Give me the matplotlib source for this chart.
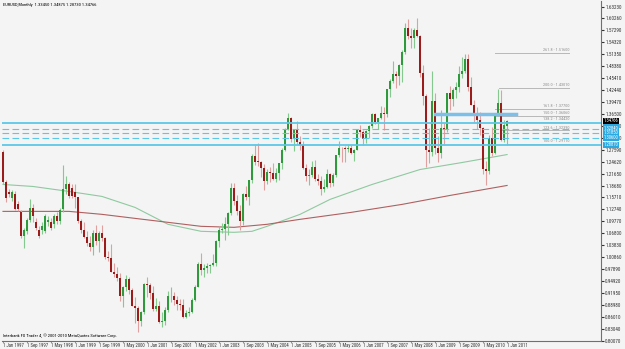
import numpy as np
import pandas as pd
import matplotlib.pyplot as plt
from matplotlib import font_manager
from matplotlib.font_manager import FontProperties

# MT4 uses a small narrow font - pick the narrowest family that is installed
font = 'DejaVu Sans'
for name in ['Liberation Sans Narrow', 'DejaVu Sans Condensed', 'Roboto Condensed', 'Liberation Sans']:
    try:
        font_manager.findfont(FontProperties(family=name), fallback_to_default=False)
        font = name
        break
    except ValueError:
        pass
fs = 1.15 if font in ('Liberation Sans Narrow', 'Roboto Condensed', 'DejaVu Sans Condensed') else 1.0
plt.rcParams['font.family'] = [font, 'DejaVu Sans']

# EURUSD monthly candles, Jan 1997 .. Jan 2011
start = '1997-01-01'
opens = [1.2700, 1.1950, 1.1700, 1.1560, 1.1650, 1.1420, 1.1200, 1.0610, 1.0740, 1.1000, 1.1300, 1.0950,
         1.0750, 1.0750, 1.0740, 1.0950, 1.0950, 1.0900, 1.1100, 1.0980, 1.1274, 1.1770, 1.1894, 1.1810,
         1.1700, 1.1575, 1.0980, 1.0770, 1.0575, 1.0430, 1.0345, 1.0675, 1.0495, 1.0680, 1.0550, 1.0090,
         1.0075, 0.9710, 0.9660, 0.9560, 0.9120, 0.9330, 0.9530, 0.9260, 0.8880, 0.8830, 0.8490, 0.8720,
         0.9420, 0.9380, 0.9200, 0.8805, 0.8880, 0.8460, 0.8500, 0.8760, 0.9110, 0.9120, 0.9030, 0.8915,
         0.8900, 0.8600, 0.8700, 0.8720, 0.9015, 0.9340, 0.9920, 0.9775, 0.9805, 0.9865, 0.9890, 0.9935,
         1.0490, 1.0750, 1.0780, 1.0905, 1.1180, 1.1810, 1.1480, 1.1240, 1.0980, 1.1650, 1.1590, 1.1995,
         1.2590, 1.2460, 1.2450, 1.2300, 1.1980, 1.2200, 1.2170, 1.2020, 1.2175, 1.2420, 1.2760, 1.3285,
         1.3555, 1.3035, 1.3250, 1.2960, 1.2870, 1.2300, 1.2100, 1.2125, 1.2340, 1.2025, 1.1990, 1.1790,
         1.1840, 1.2150, 1.1920, 1.2120, 1.2620, 1.2810, 1.2790, 1.2770, 1.2810, 1.2680, 1.2760, 1.3250,
         1.3200, 1.3025, 1.3230, 1.3350, 1.3660, 1.3450, 1.3540, 1.3680, 1.3660, 1.4260, 1.4480, 1.4640,
         1.4590, 1.4860, 1.5190, 1.5780, 1.5580, 1.5550, 1.5750, 1.5600, 1.4670, 1.4090, 1.2740, 1.2690,
         1.3960, 1.2800, 1.2670, 1.3290, 1.3240, 1.4160, 1.4030, 1.4240, 1.4325, 1.4640, 1.4720, 1.5010,
         1.4330, 1.3870, 1.3630, 1.3510, 1.3295, 1.2270, 1.2230, 1.3050, 1.2680, 1.3630, 1.3930, 1.3000,
         1.3345]
highs = [1.2750, 1.2000, 1.1780, 1.1750, 1.1720, 1.1480, 1.1250, 1.0800, 1.1050, 1.1520, 1.1400, 1.1050,
         1.0850, 1.0950, 1.1150, 1.1100, 1.1050, 1.1150, 1.1200, 1.1300, 1.2390, 1.2100, 1.1950, 1.1900,
         1.1906, 1.1590, 1.1030, 1.0950, 1.0730, 1.0600, 1.0765, 1.0880, 1.0745, 1.0895, 1.0575, 1.0245,
         1.0414, 0.9940, 0.9840, 0.9690, 0.9370, 0.9650, 0.9590, 0.9310, 0.9100, 0.8880, 0.8740, 0.9440,
         0.9595, 0.9440, 0.9360, 0.9080, 0.9000, 0.8710, 0.8840, 0.9240, 0.9330, 0.9225, 0.9110, 0.9055,
         0.9045, 0.8760, 0.8850, 0.9060, 0.9390, 0.9960, 1.0195, 0.9910, 0.9940, 0.9905, 1.0160, 1.0500,
         1.0860, 1.0935, 1.1080, 1.1220, 1.1930, 1.1935, 1.1640, 1.1385, 1.1675, 1.1850, 1.2015, 1.2640,
         1.2900, 1.2930, 1.2480, 1.2410, 1.2275, 1.2325, 1.2430, 1.2300, 1.2440, 1.2810, 1.3310, 1.3667,
         1.3580, 1.3285, 1.3480, 1.3090, 1.2980, 1.2400, 1.2290, 1.2480, 1.2500, 1.2155, 1.2105, 1.2040,
         1.2285, 1.2190, 1.2190, 1.2625, 1.2980, 1.2830, 1.2860, 1.2905, 1.2875, 1.2770, 1.3280, 1.3365,
         1.3255, 1.3250, 1.3385, 1.3680, 1.3680, 1.3540, 1.3850, 1.3810, 1.4280, 1.4525, 1.4970, 1.4725,
         1.4885, 1.5245, 1.5905, 1.6020, 1.5790, 1.5800, 1.6038, 1.5620, 1.4865, 1.4155, 1.3300, 1.4720,
         1.4160, 1.3095, 1.3740, 1.3430, 1.4165, 1.4340, 1.4305, 1.4445, 1.4845, 1.5060, 1.5145, 1.5140,
         1.4580, 1.3990, 1.3815, 1.3690, 1.3330, 1.2470, 1.3120, 1.3335, 1.3650, 1.4282, 1.4245, 1.3500,
         1.3488]
lows = [1.1900, 1.1450, 1.1580, 1.1480, 1.1250, 1.1230, 1.0550, 1.0320, 1.0650, 1.0950, 1.0950, 1.0750,
        1.0550, 1.0650, 1.0680, 1.0850, 1.0750, 1.0800, 1.0900, 1.0900, 1.1200, 1.1650, 1.1550, 1.1550,
        1.1300, 1.0930, 1.0680, 1.0550, 1.0360, 1.0230, 1.0130, 1.0390, 1.0205, 1.0485, 1.0040, 0.9995,
        0.9705, 0.9600, 0.9490, 0.9000, 0.8840, 0.9240, 0.9170, 0.8880, 0.8440, 0.8228, 0.8370, 0.8680,
        0.9105, 0.9040, 0.8740, 0.8740, 0.8440, 0.8350, 0.8400, 0.8730, 0.8970, 0.8905, 0.8760, 0.8780,
        0.8580, 0.8565, 0.8610, 0.8700, 0.8995, 0.9340, 0.9630, 0.9600, 0.9685, 0.9690, 0.9860, 0.9875,
        1.0335, 1.0690, 1.0500, 1.0630, 1.1125, 1.1395, 1.1140, 1.0760, 1.0880, 1.1510, 1.1380, 1.1930,
        1.2380, 1.2355, 1.2080, 1.1760, 1.1900, 1.1965, 1.2010, 1.1950, 1.2005, 1.2285, 1.2715, 1.3255,
        1.2955, 1.2730, 1.2870, 1.2750, 1.2290, 1.1970, 1.1870, 1.2090, 1.1975, 1.1875, 1.1640, 1.1705,
        1.1800, 1.1825, 1.1860, 1.2070, 1.2580, 1.2460, 1.2455, 1.2690, 1.2650, 1.2480, 1.2745, 1.3085,
        1.2865, 1.2935, 1.3050, 1.3310, 1.3390, 1.3265, 1.3520, 1.3260, 1.3580, 1.4075, 1.4420, 1.4300,
        1.4365, 1.4440, 1.5145, 1.5510, 1.5285, 1.5300, 1.5560, 1.4580, 1.3880, 1.2330, 1.2420, 1.2610,
        1.2660, 1.2455, 1.2550, 1.2885, 1.3205, 1.3750, 1.3850, 1.4045, 1.4200, 1.4535, 1.4665, 1.4220,
        1.3860, 1.3440, 1.3270, 1.3115, 1.2150, 1.1876, 1.2150, 1.2590, 1.2650, 1.3600, 1.2970, 1.2960,
        1.2873]
closes = [1.1950, 1.1550, 1.1650, 1.1700, 1.1280, 1.1290, 1.0610, 1.0750, 1.1000, 1.1300, 1.1100, 1.0800,
          1.0610, 1.0860, 1.1100, 1.1020, 1.0800, 1.1100, 1.0980, 1.1250, 1.1770, 1.1894, 1.1604, 1.1604,
          1.1575, 1.0980, 1.0770, 1.0575, 1.0430, 1.0345, 1.0675, 1.0495, 1.0680, 1.0550, 1.0090, 1.0075,
          0.9710, 0.9660, 0.9560, 0.9120, 0.9330, 0.9530, 0.9260, 0.8880, 0.8830, 0.8490, 0.8720, 0.9420,
          0.9380, 0.9200, 0.8805, 0.8880, 0.8460, 0.8500, 0.8760, 0.9110, 0.9120, 0.9030, 0.8915, 0.8900,
          0.8600, 0.8700, 0.8720, 0.9015, 0.9340, 0.9920, 0.9775, 0.9805, 0.9865, 0.9890, 0.9935, 1.0490,
          1.0750, 1.0780, 1.0905, 1.1180, 1.1810, 1.1480, 1.1240, 1.0980, 1.1650, 1.1590, 1.1995, 1.2590,
          1.2460, 1.2450, 1.2300, 1.1980, 1.2200, 1.2170, 1.2020, 1.2175, 1.2420, 1.2760, 1.3285, 1.3555,
          1.3035, 1.3250, 1.2960, 1.2870, 1.2300, 1.2100, 1.2125, 1.2340, 1.2025, 1.1990, 1.1790, 1.1840,
          1.2150, 1.1920, 1.2120, 1.2620, 1.2810, 1.2790, 1.2770, 1.2810, 1.2680, 1.2760, 1.3250, 1.3200,
          1.3025, 1.3230, 1.3350, 1.3660, 1.3450, 1.3540, 1.3680, 1.3660, 1.4260, 1.4480, 1.4640, 1.4590,
          1.4860, 1.5190, 1.5780, 1.5580, 1.5550, 1.5750, 1.5600, 1.4670, 1.4090, 1.2740, 1.2690, 1.3960,
          1.2800, 1.2670, 1.3290, 1.3240, 1.4160, 1.4030, 1.4240, 1.4325, 1.4640, 1.4720, 1.5010, 1.4330,
          1.3870, 1.3630, 1.3510, 1.3295, 1.2270, 1.2230, 1.3050, 1.2680, 1.3630, 1.3930, 1.3000, 1.3380,
          1.3477]

# moving averages, sampled along the chart (bar index, price)
ma_green_bar = [0, 10, 22, 33, 44, 55, 66, 77, 83, 88, 99, 109, 123, 139, 153, 168]
ma_green_val = [1.1894, 1.1844, 1.1720, 1.1596, 1.1323, 1.0902, 1.0728, 1.0703, 1.0728, 1.0852,
                1.1150, 1.1522, 1.1894, 1.2266, 1.2440, 1.2638]
ma_red_bar = [0, 22, 33, 44, 55, 66, 77, 88, 99, 116, 133, 149, 168]
ma_red_val = [1.1224, 1.1224, 1.1150, 1.1050, 1.0951, 1.0852, 1.0827, 1.0902, 1.1026, 1.1199,
              1.1398, 1.1621, 1.1869]

# fibonacci expansion levels
fib_names = ['261.8', '200.0', '161.8', '150.0', '138.2', '123.6', '100.0']
fib_prices = [1.51600, 1.43010, 1.37700, 1.36060, 1.34420, 1.32390, 1.29110]
fib_start = [164, 165.3, 164, 164, 166, 166, 168]
fib_end = 188.7

# support / resistance zone (horizontal lines)
zone_solid = [1.3433, 1.2887]
zone_dashed = [1.3284, 1.3185, 1.3060]
short_line_price = 1.3656
short_line_bars = (144, 171)

last_price = 1.34766
yticks = [0.8007, 0.8304, 0.8601, 0.8898, 0.9195, 0.9492, 0.9789, 1.0086, 1.0383, 1.0680,
          1.0977, 1.1274, 1.1571, 1.1868, 1.2165, 1.2462, 1.2759, 1.3056, 1.3353, 1.3650,
          1.3947, 1.4244, 1.4541, 1.4838, 1.5135, 1.5432, 1.5729, 1.6026, 1.6323]

dates = pd.date_range(start, periods=len(closes), freq='MS')
o = np.array(opens); h = np.array(highs); l = np.array(lows); c = np.array(closes)
x = np.arange(len(c))

bg = '#f4f4f4'
fig = plt.figure(figsize=(6.25, 3.49), dpi=100, facecolor=bg)
ax = fig.add_axes([2 / 625, 8 / 349, 599 / 625, 340 / 349], facecolor=bg)

up = c >= o
bull, bear = '#2f9a3c', '#9c1c1c'
ax.vlines(x[up], l[up], h[up], color='#86c98f', lw=0.8, zorder=2)
ax.vlines(x[~up], l[~up], h[~up], color='#e0a0a0', lw=0.8, zorder=2)
body_lo = np.minimum(o, c)
body_h = np.maximum(np.abs(c - o), 0.002)
ax.bar(x[up], body_h[up], bottom=body_lo[up], width=0.67, color=bull, lw=0, zorder=3)
ax.bar(x[~up], body_h[~up], bottom=body_lo[~up], width=0.67, color=bear, lw=0, zorder=3)

ax.plot(ma_green_bar, ma_green_val, color='#8fc9a0', lw=0.8, zorder=1)
ax.plot(ma_red_bar, ma_red_val, color='#b06060', lw=0.8, zorder=1)

# zone lines
zc = '#5cc8e8'
for p in zone_solid:
    ax.axhline(p, color=zc, lw=1.3, zorder=4)
for p in zone_dashed:
    ax.axhline(p, color=zc, lw=0.8, ls=(0, (6, 3)), zorder=4)
ax.plot(short_line_bars, [short_line_price] * 2, color='#7cbfe8', lw=2.5, zorder=4)

# fib levels
for name, p, s in zip(fib_names, fib_prices, fib_start):
    ax.plot([s, fib_end], [p, p], color='#b8b8b8', lw=0.7, zorder=1)
    ax.text(fib_end, p + 0.002, f'{name} - {p:.5f}', ha='right', va='bottom',
            fontsize=2.7 * fs, color='#909090')

ax.set_xlim(-0.33, 199.3)
ax.set_ylim(0.7998, 1.6460)

# x labels every 8 months
xt = x[::8]
ax.set_xticks(xt)
ax.set_xticklabels([f'{d.day} {d.strftime("%b %Y")}' for d in dates[::8]],
                   fontsize=3.0 * fs, ha='left')
ax.tick_params(axis='x', length=1, pad=0.4, colors='#333333')

ax.yaxis.tick_right()
ax.set_yticks(yticks)
ax.set_yticklabels([f'{v:.5f}' for v in yticks], fontsize=3.2 * fs)
ax.tick_params(axis='y', length=2, pad=1, colors='#333333')

for side in ['top', 'left']:
    ax.spines[side].set_visible(False)
for side in ['right', 'bottom']:
    ax.spines[side].set_color('#707070')
    ax.spines[side].set_linewidth(0.8)

# price boxes on the right axis
tf = ax.get_yaxis_transform()
for p in zone_solid + zone_dashed:
    ax.text(1.004, p, f'{p:.5f}', transform=tf, fontsize=2.9 * fs, color='white', va='center',
            ha='left', bbox=dict(boxstyle='square,pad=0.1', fc='#2aa8e0', ec='none'), clip_on=False)
ax.text(1.004, last_price, f'{last_price:.5f}', transform=tf, fontsize=2.9 * fs, color='white',
        va='center', ha='left', bbox=dict(boxstyle='square,pad=0.1', fc='black', ec='none'),
        clip_on=False)

ax.text(0.002, 0.995, 'EURUSD,Monthly  1.33450 1.34875 1.28730 1.34766', transform=ax.transAxes,
        fontsize=2.8 * fs, va='top', ha='left', color='black')
ax.text(0.002, 0.008, 'Interbank FX Trader 4, \u00a9 2001-2010 MetaQuotes Software Corp.',
        transform=ax.transAxes, fontsize=2.8 * fs, va='bottom', ha='left', color='black')

fig.savefig('out.png', dpi=100, facecolor=bg)
